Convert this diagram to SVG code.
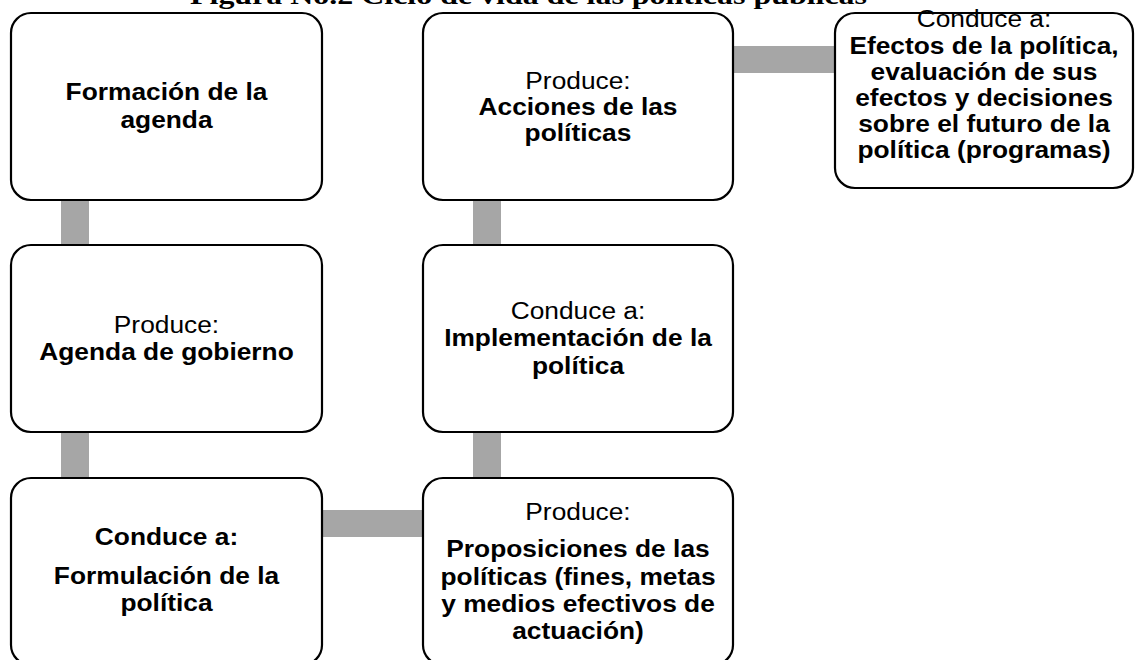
<svg xmlns="http://www.w3.org/2000/svg" width="1135" height="660" viewBox="0 0 1135 660">
<style>
.box{fill:#ffffff;stroke:#000000;stroke-width:2.2}
.con{fill:#a6a6a6;stroke:none}
.t{font-family:"Liberation Sans",Arial,sans-serif;font-size:23.3px;fill:#000000;text-anchor:middle}
.b{font-weight:bold}
.title{font-family:"Liberation Serif","Times New Roman",serif;font-weight:bold;font-size:26px;fill:#000000}
</style>
<rect width="1135" height="660" fill="#ffffff"/>
<text class="title" x="190" y="4" textLength="677" lengthAdjust="spacingAndGlyphs">Figura No.2 Ciclo de vida de las políticas públicas</text>
<g id="connectors">
<rect class="con" x="61" y="199" width="28" height="47"/>
<rect class="con" x="61" y="431" width="28" height="48"/>
<rect class="con" x="321" y="510" width="103" height="27"/>
<rect class="con" x="473" y="431" width="28" height="48"/>
<rect class="con" x="473" y="199" width="28" height="47"/>
<rect class="con" x="732" y="46" width="104" height="27"/>
</g>
<g id="n1">
<rect class="box" x="11" y="13" width="311" height="187" rx="20"/>
<g transform="translate(166.5,0) scale(1.13,1)">
<text class="t b" x="0" y="100">Formación de la</text>
<text class="t b" x="0" y="128">agenda</text>
</g>
</g>
<g id="n2">
<rect class="box" x="11" y="245" width="311" height="187" rx="20"/>
<g transform="translate(166.5,0) scale(1.13,1)">
<text class="t" x="0" y="333">Produce:</text>
<text class="t b" x="0" y="360.5">Agenda de gobierno</text>
</g>
</g>
<g id="n3">
<rect class="box" x="11" y="478" width="311" height="187" rx="20"/>
<g transform="translate(166.5,0) scale(1.13,1)">
<text class="t b" x="0" y="545">Conduce a:</text>
<text class="t b" x="0" y="584">Formulación de la</text>
<text class="t b" x="0" y="611.5">política</text>
</g>
</g>
<g id="n4">
<rect class="box" x="423" y="478" width="310" height="187" rx="20"/>
<g transform="translate(578,0) scale(1.13,1)">
<text class="t" x="0" y="520.5">Produce:</text>
<text class="t b" x="0" y="557.5">Proposiciones de las</text>
<text class="t b" x="0" y="585">políticas (fines, metas</text>
<text class="t b" x="0" y="612">y medios efectivos de</text>
<text class="t b" x="0" y="639.5">actuación)</text>
</g>
</g>
<g id="n5">
<rect class="box" x="423" y="245" width="310" height="187" rx="20"/>
<g transform="translate(578,0) scale(1.13,1)">
<text class="t" x="0" y="319.5">Conduce a:</text>
<text class="t b" x="0" y="346.5">Implementación de la</text>
<text class="t b" x="0" y="374">política</text>
</g>
</g>
<g id="n6">
<rect class="box" x="423" y="13" width="310" height="187" rx="20"/>
<g transform="translate(578,0) scale(1.13,1)">
<text class="t" x="0" y="89.5">Produce:</text>
<text class="t b" x="0" y="115">Acciones de las</text>
<text class="t b" x="0" y="141.5">políticas</text>
</g>
</g>
<g id="n7">
<rect class="box" x="835" y="13" width="298" height="175" rx="20"/>
<g transform="translate(984,0) scale(1.13,1)">
<text class="t" x="0" y="27">Conduce a:</text>
<text class="t b" x="0" y="54">Efectos de la política,</text>
<text class="t b" x="0" y="80">evaluación de sus</text>
<text class="t b" x="0" y="106">efectos y decisiones</text>
<text class="t b" x="0" y="132">sobre el futuro de la</text>
<text class="t b" x="0" y="158">política (programas)</text>
</g>
</g>
</svg>
